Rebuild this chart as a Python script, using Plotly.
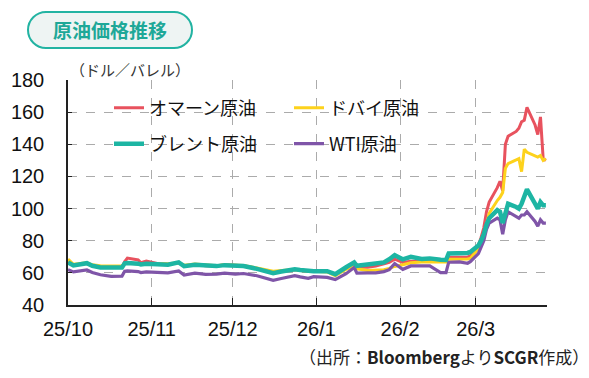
import plotly.graph_objects as go

# ---------------- data ----------------
dates = [
    "2025-10-01", "2025-10-03", "2025-10-08", "2025-10-10", "2025-10-13", "2025-10-17",
    "2025-10-21", "2025-10-22", "2025-10-23", "2025-10-27", "2025-10-28", "2025-10-30",
    "2025-11-03", "2025-11-07", "2025-11-11", "2025-11-13", "2025-11-17", "2025-11-21",
    "2025-11-25", "2025-11-28", "2025-12-02", "2025-12-05", "2025-12-10", "2025-12-16",
    "2025-12-19", "2025-12-24", "2025-12-26", "2025-12-29", "2025-12-31", "2026-01-05",
    "2026-01-08", "2026-01-12", "2026-01-15", "2026-01-16", "2026-01-20", "2026-01-23",
    "2026-01-26", "2026-01-28", "2026-01-30", "2026-02-02", "2026-02-05", "2026-02-09",
    "2026-02-12", "2026-02-16", "2026-02-18", "2026-02-19", "2026-02-23", "2026-02-26",
    "2026-02-27", "2026-03-02", "2026-03-03", "2026-03-04", "2026-03-05", "2026-03-06",
    "2026-03-09", "2026-03-10", "2026-03-11", "2026-03-12", "2026-03-13", "2026-03-16",
    "2026-03-17", "2026-03-18", "2026-03-19", "2026-03-20", "2026-03-23", "2026-03-24",
    "2026-03-25", "2026-03-26", "2026-03-27",
]

oman = [
    66.8, 64.8, 66.0, 64.4, 63.6, 63.5, 63.6, 67.0, 69.2, 68.0, 66.3, 67.4,
    65.8, 65.3, 66.3, 64.5, 65.2, 64.5, 64.3, 65.0, 64.8, 64.5, 62.8, 60.3,
    61.0, 62.0, 61.5, 61.0, 61.0, 60.8, 58.8, 62.8, 65.8, 63.5, 63.5, 64.2,
    65.5, 66.5, 68.5, 66.5, 67.3, 67.0, 67.2, 67.0, 67.2, 69.5, 69.5, 69.8,
    70.5, 77, 82, 88, 98, 104, 113, 117, 111, 140, 145, 148,
    150, 154, 155, 163, 152, 146, 157, 131, 130,
]

dubai = [
    68.5, 65.3, 66.3, 65.0, 64.4, 64.2, 64.2, 65.9, 66.0, 65.7, 65.3, 65.8,
    65.8, 65.6, 66.3, 64.8, 65.5, 65.0, 64.5, 65.0, 64.6, 64.6, 63.0, 61.0,
    61.4, 62.0, 61.5, 61.2, 61.0, 60.6, 58.2, 62.2, 63.8, 62.5, 61.5, 61.6,
    62.0, 62.8, 64.0, 65.0, 66.3, 66.7, 66.8, 66.5, 66.8, 68.5, 68.4, 68.6,
    69.0, 75, 78, 83, 90, 97, 105, 107, 110, 125, 128, 130,
    131, 123, 137, 135, 133, 132, 133, 130, 131,
]

brent = [
    66.5, 64.6, 66.0, 64.4, 63.4, 63.2, 63.4, 65.9, 66.1, 65.7, 65.2, 65.6,
    65.3, 65.0, 66.5, 64.2, 65.0, 64.4, 64.2, 64.8, 64.2, 64.3, 62.5, 59.8,
    60.8, 62.2, 61.8, 61.0, 61.0, 61.0, 59.2, 63.5, 66.5, 64.4, 65.2, 65.3,
    66.5, 68.5, 71.0, 68.4, 70.0, 68.7, 69.0, 68.2, 68.0, 72.0, 72.0, 72.4,
    73.0, 77, 80, 84, 90, 94, 99, 98, 91, 98, 103, 101,
    100, 103, 108, 112, 103, 100, 104, 102, 102,
]

wti = [
    62.0, 60.6, 61.8, 60.2, 58.8, 57.8, 58.0, 61.0, 61.2, 60.8, 60.2, 60.6,
    60.3, 60.0, 61.2, 58.6, 59.8, 59.0, 59.2, 59.8, 59.2, 59.6, 58.2, 55.4,
    56.5, 58.3, 57.5, 56.6, 57.6, 57.2, 55.8, 59.5, 63.3, 59.8, 60.0, 60.0,
    60.8, 62.0, 65.8, 62.2, 64.3, 64.2, 64.3, 60.2, 60.2, 66.6, 66.8, 66.0,
    67.0, 72, 76, 80, 87, 91, 94, 93, 84, 93, 98, 95,
    94, 96, 96, 98, 92, 89, 93, 91, 91,
]

series_names = ["オマーン原油", "ドバイ原油", "ブレント原油", "WTI原油"]
tick_dates = ["2025-10-01", "2025-11-01", "2025-12-01", "2026-01-01", "2026-02-01", "2026-03-01"]
tick_labels = ["25/10", "25/11", "25/12", "26/1", "26/2", "26/3"]
y_ticks = [40, 60, 80, 100, 120, 140, 160, 180]

# ---------------- layout helpers ----------------
W, H = 589, 378
L, R, T, B = 68, 42, 80, 73
PW, PH = W - L - R, H - T - B


def px(x):
    return (x - L) / PW


def py(y):
    return (H - B - y) / PH


JP = "Noto Sans CJK JP, Noto Sans, sans-serif"
LAT = "Liberation Sans, Arial, sans-serif"

RED = "#e8525e"
YEL = "#fdd21c"
TEAL = "#1db5a3"
PUR = "#7f55a8"

fig = go.Figure()

# draw order: red, yellow, purple, teal
fig.add_trace(go.Scatter(x=dates, y=oman, name=series_names[0], mode="lines",
                         line=dict(color=RED, width=3), legend="legend"))
fig.add_trace(go.Scatter(x=dates, y=dubai, name=series_names[1], mode="lines",
                         line=dict(color=YEL, width=3), legend="legend2"))
fig.add_trace(go.Scatter(x=dates, y=wti, name=series_names[3], mode="lines",
                         line=dict(color=PUR, width=3.2), legend="legend4"))
fig.add_trace(go.Scatter(x=dates, y=brent, name=series_names[2], mode="lines",
                         line=dict(color=TEAL, width=4.5), legend="legend3"))

leg_common = dict(xanchor="left", yanchor="middle", bgcolor="rgba(0,0,0,0)",
                  font=dict(family=JP, size=18, color="#111"), itemwidth=30)

# title pill
x0, x1, y0, y1 = 28, 192, 12, 48
r = (y1 - y0) / 2
k = 0.5523
path = (
    f"M {px(x0 + r)},{py(y0)} L {px(x1 - r)},{py(y0)} "
    f"C {px(x1 - r + k * r)},{py(y0)} {px(x1)},{py(y0 + r - k * r)} {px(x1)},{py(y0 + r)} "
    f"C {px(x1)},{py(y0 + r + k * r)} {px(x1 - r + k * r)},{py(y1)} {px(x1 - r)},{py(y1)} "
    f"L {px(x0 + r)},{py(y1)} "
    f"C {px(x0 + r - k * r)},{py(y1)} {px(x0)},{py(y0 + r + k * r)} {px(x0)},{py(y0 + r)} "
    f"C {px(x0)},{py(y0 + r - k * r)} {px(x0 + r - k * r)},{py(y0)} {px(x0 + r)},{py(y0)} Z"
)

fig.update_layout(
    width=W, height=H,
    margin=dict(l=L, r=R, t=T, b=B),
    paper_bgcolor="white", plot_bgcolor="white",
    showlegend=True,
    legend=dict(x=px(109), y=py(108), **leg_common),
    legend2=dict(x=px(289), y=py(108), **leg_common),
    legend3=dict(x=px(109), y=py(144), **leg_common),
    legend4=dict(x=px(289), y=py(144), **leg_common),
    xaxis=dict(
        type="date",
        range=["2025-10-01", "2026-03-27 10:00"],
        tickvals=tick_dates, ticktext=tick_labels,
        showgrid=True, gridcolor="#ababab", griddash="dash", gridwidth=1.2,
        showline=True, linecolor="#222", linewidth=1.5,
        ticks="inside", ticklen=7, tickcolor="#222", tickwidth=1.2,
        tickfont=dict(family=LAT, size=20, color="#111"),
        ticklabelstandoff=5,
        zeroline=False,
    ),
    yaxis=dict(
        range=[40, 180],
        tickvals=y_ticks,
        showgrid=True, gridcolor="#ababab", griddash="dash", gridwidth=1.2,
        showline=True, linecolor="#222", linewidth=1.5,
        ticks="inside", ticklen=4, tickcolor="#222", tickwidth=1.2,
        tickfont=dict(family=LAT, size=20, color="#111"),
        ticklabelstandoff=18,
        zeroline=False,
    ),
    shapes=[
        dict(type="rect", xref="paper", yref="paper", x0=px(90), x1=px(460),
             y0=py(165), y1=py(90), fillcolor="white", line=dict(width=0),
             layer="between"),
        dict(type="path", xref="paper", yref="paper", path=path,
             fillcolor="#eef4f3", line=dict(color="#22b3a2", width=2), layer="above"),
    ],
    annotations=[
        dict(text="<b>原油価格推移</b>", xref="paper", yref="paper",
             x=px((x0 + x1) / 2), y=py((y0 + y1) / 2), xanchor="center", yanchor="middle",
             showarrow=False, font=dict(family=JP, size=19, color="#1ea898")),
        dict(text="（ドル／バレル）", xref="paper", yref="paper",
             x=px(68), y=py(70), xanchor="left", yanchor="middle",
             showarrow=False, font=dict(family=JP, size=15, color="#333")),
        dict(text="（出所：<b>Bloomberg</b>より<b>SCGR</b>作成）", xref="paper", yref="paper",
             x=px(591), y=py(356), xanchor="right", yanchor="middle",
             showarrow=False, font=dict(family=JP, size=17, color="#222")),
    ],
)

fig.write_html("out.html", post_script="document.body.style.margin='0';",
               config={"displayModeBar": False})
